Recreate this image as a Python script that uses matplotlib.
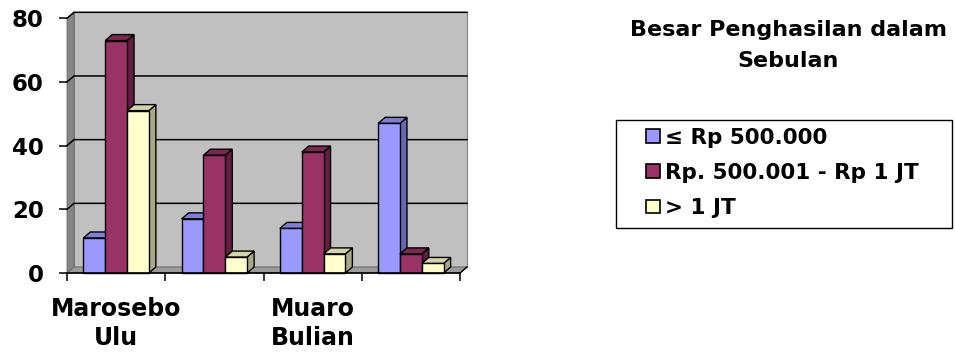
import matplotlib
matplotlib.use("Agg")
import matplotlib.pyplot as plt
from matplotlib.patches import Polygon, Rectangle, Patch

# Data
tick_labels = ["Marosebo\nUlu", "", "Muaro\nBulian", ""]
series_names = ["\u2264 Rp 500.000", "Rp. 500.001 - Rp 1 JT", "> 1 JT"]
le_500rb = [11, 17, 14, 47]
rb500_1jt = [73, 37, 38, 6]
gt_1jt = [51, 5, 6, 3]
series_values = [le_500rb, rb500_1jt, gt_1jt]
y_ticks = [0, 20, 40, 60, 80]

# Face colours per series: front, top, side
front_colors = ["#9999FF", "#993366", "#FFFFCC"]
top_colors = ["#8080D6", "#7A2852", "#D4D4A8"]
side_colors = ["#6868B0", "#641E42", "#A9A985"]

plt.rcParams["font.family"] = ["DejaVu Sans"]
plt.rcParams["font.weight"] = "bold"

W, H = 955, 352
fig = plt.figure(figsize=(W / 100, H / 100), dpi=100)
ax_left, ax_right, ax_top, ax_bottom = 67, 460, 18.3, 273
ax = fig.add_axes([ax_left / W, 1 - ax_bottom / H,
                   (ax_right - ax_left) / W, (ax_bottom - ax_top) / H])
n_cat = len(le_500rb)
ymax = 80
ax.set_xlim(0, n_cat)
ax.set_ylim(0, ymax)

# depth offset of the 3D look, pixels -> data units
depth_px_x, depth_px_y = 7.0, 6.0
dx = depth_px_x * n_cat / (ax_right - ax_left)
dy = depth_px_y * ymax / (ax_bottom - ax_top)

def poly(pts, fc, z, ec="black", lw=1.0):
    ax.add_patch(Polygon(pts, closed=True, facecolor=fc, edgecolor=ec,
                         linewidth=lw, zorder=z, clip_on=False,
                         joinstyle="miter"))

# walls and floor
poly([(dx, dy), (n_cat + dx, dy), (n_cat + dx, ymax + dy), (dx, ymax + dy)],
     "#C0C0C0", 1, ec="#808080", lw=0.8)
poly([(0, 0), (dx, dy), (dx, ymax + dy), (0, ymax)], "#868686", 1,
     ec="#6E6E6E", lw=0.6)
poly([(0, 0), (n_cat, 0), (n_cat + dx, dy), (dx, dy)], "#9C9C9C", 2,
     ec="#6E6E6E", lw=0.8)

# gridlines on the back and side walls
for v in y_ticks[1:]:
    ax.plot([0, dx, n_cat + dx], [v, v + dy, v + dy], color="black",
            lw=1.1, zorder=2, clip_on=False, solid_joinstyle="miter")
ax.plot([n_cat, n_cat + dx], [0, dy], color="black", lw=1.0, zorder=2,
        clip_on=False)

# bars (gap width 150%)
bw = 1 / 4.5
z = 3
for i in range(n_cat):
    for j, vals in enumerate(series_values):
        v = vals[i]
        x0 = i + 0.5 + (j - 1.5) * bw
        x1 = x0 + bw
        poly([(x1, 0), (x1 + dx, dy), (x1 + dx, v + dy), (x1, v)],
             side_colors[j], z)
        poly([(x0, v), (x1, v), (x1 + dx, v + dy), (x0 + dx, v + dy)],
             top_colors[j], z)
        ax.add_patch(Rectangle((x0, 0), bw, v, facecolor=front_colors[j],
                               edgecolor="black", linewidth=1.0, zorder=z,
                               clip_on=False))
        z += 1

# axes styling
for s in ["top", "right", "left"]:
    ax.spines[s].set_visible(False)
ax.spines["bottom"].set_linewidth(1.2)
ax.spines["bottom"].set_zorder(100)
ax.set_facecolor("none")
ax.set_yticks(y_ticks)
ax.set_yticklabels([str(t) for t in y_ticks])
ax.tick_params(axis="y", direction="out", length=5.8, width=1.1, pad=11,
               labelsize=16.5, colors="black")
ax.set_xticks(range(n_cat + 1))
ax.set_xticklabels([""] * (n_cat + 1))
ax.tick_params(axis="x", which="major", direction="out", length=5.8,
               width=1.1)
ax.set_xticks([i + 0.5 for i in range(n_cat)], minor=True)
ax.set_xticklabels(tick_labels, minor=True, fontsize=17, fontweight="bold",
                   linespacing=1.28)
ax.tick_params(axis="x", which="minor", length=0, pad=17)

# title on the right
fig.text(788 / W, 1 - 45.5 / H, "Besar Penghasilan dalam\nSebulan",
         ha="center", va="center", fontsize=16, fontweight="bold",
         linespacing=1.7)

# legend
fig.add_artist(Rectangle((615.7 / W, 1 - 227.7 / H), 336 / W, 107.7 / H,
                         transform=fig.transFigure, facecolor="white",
                         edgecolor="black", linewidth=1.0))
handles = [Patch(facecolor=c, edgecolor="black", linewidth=1.2)
           for c in front_colors]
leg = fig.legend(handles, series_names, loc="upper left",
                 bbox_to_anchor=(645.7 / W, 1 - 127.5 / H), frameon=False,
                 handlelength=0.65, handleheight=0.6,
                 handletextpad=0.24, labelspacing=0.71, borderpad=0,
                 borderaxespad=0, prop={"weight": "bold", "size": 15.5})
leg.set_zorder(10)

fig.savefig("out.png", dpi=100)
